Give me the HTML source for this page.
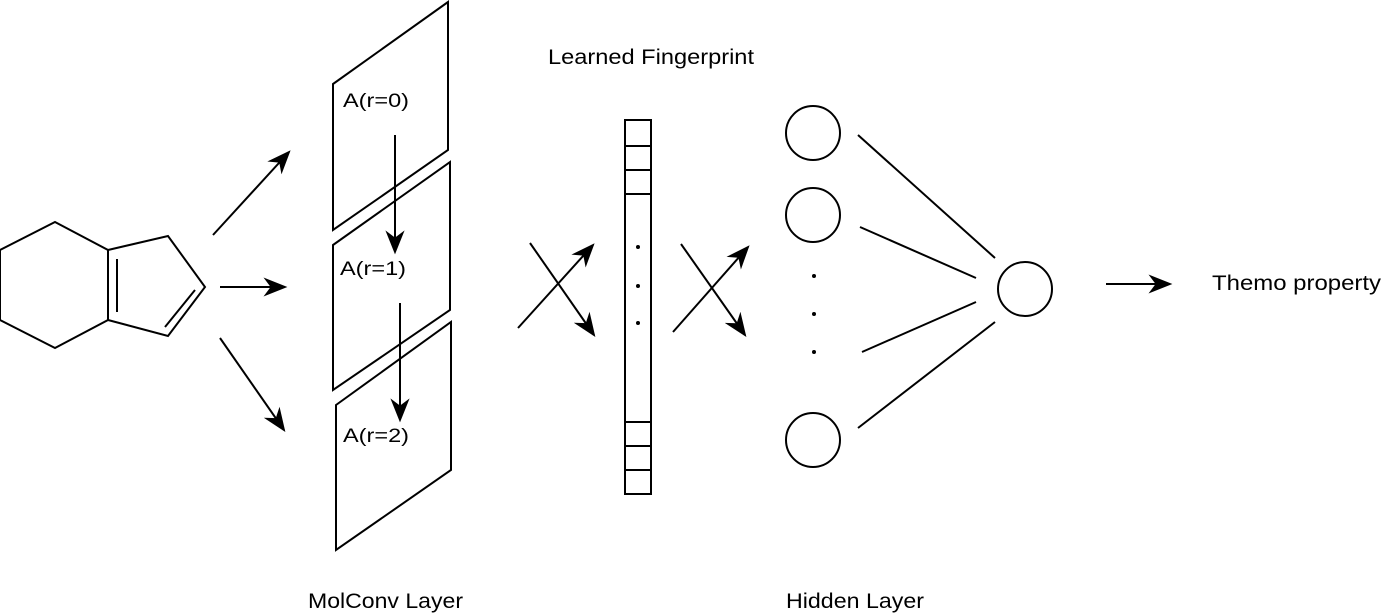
<!DOCTYPE html>
<html><head><meta charset="utf-8"><style>
html,body{margin:0;padding:0;background:#fff;width:1382px;height:615px;overflow:hidden}
svg text{font-family:"Liberation Sans",sans-serif;fill:#000}
</style></head><body>
<svg width="1382" height="615" viewBox="0 0 1382 615">
<defs>
<marker id="ah2" viewBox="0 0 10 10" refX="9" refY="5" markerWidth="24" markerHeight="24" orient="auto" markerUnits="userSpaceOnUse"><path d="M0,1 L10,5 L0,9 L3,5 z" fill="#000"/></marker></defs>
<g stroke="#000" stroke-width="2" fill="none">
<g>
<polygon points="55,222 108,250 108,320 55,348 0,320 0,250"/>
<polyline points="108,250 168,236 205,287 168,336 108,320"/>
<line x1="117" y1="259" x2="117" y2="312"/>
<line x1="165" y1="327" x2="195" y2="290"/>
</g>
<g>
<line x1="213" y1="235" x2="289" y2="152" marker-end="url(#ah2)"/>
<line x1="220" y1="287" x2="285" y2="287" marker-end="url(#ah2)"/>
<line x1="220" y1="338" x2="284" y2="430" marker-end="url(#ah2)"/>
</g>
<polygon points="333,84 448,2 448,150 333,230" fill="#fff"/>
<polygon points="333,245 450,162 450,310 333,390" fill="#fff"/>
<polygon points="336,405 451,322 451,470 336,550" fill="#fff"/>
<line x1="395" y1="135" x2="395" y2="252" marker-end="url(#ah2)"/>
<line x1="400" y1="303" x2="400" y2="420" marker-end="url(#ah2)"/>
<g>
<rect x="625" y="120" width="26" height="374"/>
<line x1="625" y1="146" x2="651" y2="146"/><line x1="625" y1="170" x2="651" y2="170"/><line x1="625" y1="194" x2="651" y2="194"/>
<line x1="625" y1="422" x2="651" y2="422"/><line x1="625" y1="446" x2="651" y2="446"/><line x1="625" y1="470" x2="651" y2="470"/>
</g>
<line x1="518" y1="328" x2="593" y2="245" marker-end="url(#ah2)"/>
<line x1="530" y1="243" x2="594" y2="335" marker-end="url(#ah2)"/>
<line x1="673" y1="332" x2="748" y2="247" marker-end="url(#ah2)"/>
<line x1="681" y1="244" x2="745" y2="335" marker-end="url(#ah2)"/>
<g>
<circle cx="813" cy="133" r="27"/><circle cx="813" cy="215" r="27"/><circle cx="813" cy="440" r="27"/>
</g>
<circle cx="1025" cy="289" r="27"/>
<line x1="858" y1="135" x2="995" y2="258"/>
<line x1="860" y1="227" x2="976" y2="278"/>
<line x1="862" y1="352" x2="976" y2="302"/>
<line x1="858" y1="428" x2="995" y2="322"/>
<line x1="1106" y1="284" x2="1170" y2="284" marker-end="url(#ah2)"/>
</g>
<g fill="#000">
<circle cx="638" cy="247" r="2"/><circle cx="638" cy="286" r="2"/><circle cx="638" cy="323" r="2"/>
<circle cx="814" cy="276" r="2"/><circle cx="814" cy="314" r="2"/><circle cx="814" cy="352" r="2"/>
</g>
<text x="343" y="107" font-size="19" textLength="66" lengthAdjust="spacingAndGlyphs">A(r=0)</text>
<text x="340" y="275" font-size="19" textLength="66" lengthAdjust="spacingAndGlyphs">A(r=1)</text>
<text x="343" y="442" font-size="19" textLength="66" lengthAdjust="spacingAndGlyphs">A(r=2)</text>
<text x="548" y="64" font-size="21" textLength="206" lengthAdjust="spacingAndGlyphs">Learned Fingerprint</text>
<text x="308" y="608" font-size="21" textLength="155" lengthAdjust="spacingAndGlyphs">MolConv Layer</text>
<text x="786" y="608" font-size="21" textLength="138" lengthAdjust="spacingAndGlyphs">Hidden Layer</text>
<text x="1212" y="290" font-size="21" textLength="169" lengthAdjust="spacingAndGlyphs">Themo property</text>
</svg>
</body></html>
